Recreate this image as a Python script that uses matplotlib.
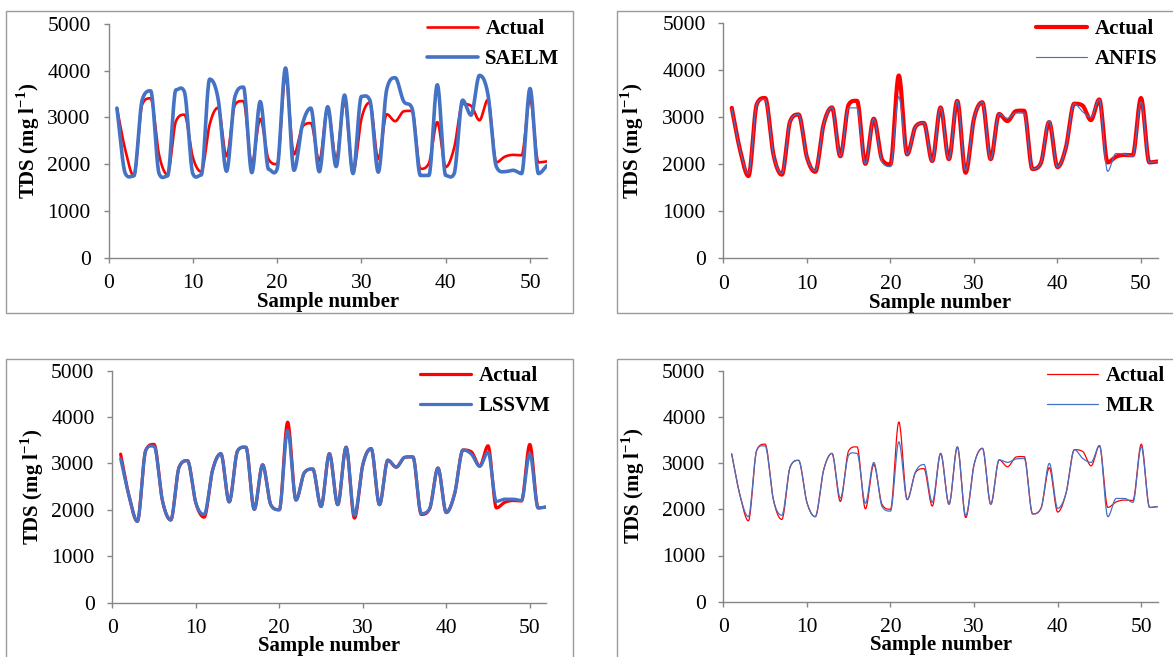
import numpy as np
import matplotlib
matplotlib.use("Agg")
import matplotlib.pyplot as plt
from matplotlib.patches import Rectangle

plt.rcParams['font.family'] = ['Liberation Serif', 'DejaVu Serif']
plt.rcParams['mathtext.fontset'] = 'custom'
plt.rcParams['mathtext.rm'] = 'Liberation Serif'
plt.rcParams['mathtext.bf'] = 'Liberation Serif:bold'

samples = list(range(1, 53))

actual = [3200, 2300, 1750, 3280, 3410, 2200, 1780, 2920, 3060, 2150,
          1840, 2850, 3210, 2170, 3270, 3350, 2010, 2970, 2100, 2000,
          3890, 2210, 2800, 2880, 2070, 3210, 2110, 3350, 1820, 2970,
          3320, 2110, 3070, 2920, 3130, 3140, 1900, 2020, 2900, 1940,
          2350, 3290, 3250, 2940, 3380, 2040, 2160, 2200, 2190, 3410,
          2040, 2060]

saelm = [3200, 1800, 1750, 3380, 3570, 1800, 1750, 3590, 3550, 1800,
         1770, 3820, 3400, 1850, 3450, 3650, 1820, 3340, 1890, 1900,
         4060, 1870, 2850, 3200, 1840, 3230, 1950, 3480, 1800, 3450,
         3370, 1830, 3600, 3850, 3350, 3200, 1760, 1760, 3700, 1760,
         1800, 3370, 3050, 3900, 3500, 1950, 1840, 1870, 1800, 3620,
         1800, 1970]

anfis = [3180, 2300, 1800, 3280, 3380, 2200, 1800, 2920, 3060, 2150,
         1860, 2850, 3210, 2170, 3200, 3200, 2010, 2970, 2050, 1950,
         3440, 2210, 2800, 2880, 2070, 3210, 2110, 3350, 1870, 2970,
         3320, 2110, 3070, 2980, 3090, 3090, 1900, 2020, 2930, 1940,
         2350, 3290, 3120, 3000, 3380, 1850, 2230, 2220, 2170, 3330,
         2040, 2060]

lssvm = [3100, 2300, 1750, 3280, 3370, 2200, 1780, 2920, 3060, 2150,
         1900, 2850, 3210, 2170, 3270, 3350, 2010, 2970, 2100, 2000,
         3710, 2210, 2800, 2880, 2070, 3210, 2110, 3350, 1880, 2970,
         3320, 2110, 3070, 2920, 3130, 3140, 1920, 2020, 2900, 1940,
         2350, 3290, 3200, 2940, 3240, 2180, 2230, 2230, 2200, 3210,
         2040, 2060]

mlr = [3200, 2300, 1840, 3280, 3370, 2200, 1870, 2920, 3060, 2150,
       1840, 2850, 3210, 2240, 3175, 3210, 2130, 3015, 2055, 1960,
       3460, 2210, 2815, 2970, 2150, 3210, 2110, 3350, 1860, 2970,
       3320, 2110, 3070, 3015, 3090, 3100, 1900, 2020, 2995, 2020,
       2350, 3290, 3100, 3015, 3380, 1840, 2235, 2235, 2150, 3355,
       2040, 2060]

models = ["SAELM", "ANFIS", "LSSVM", "MLR"]
model_values = [saelm, anfis, lssvm, mlr]

RED = "#FF0000"
BLUE = "#4472C4"
AX_GRAY = "#868686"
BOX_GRAY = "#9A9A9A"

W, H = 1173, 657
fig = plt.figure(figsize=(W / 100, H / 100), dpi=100)


def smooth(x, y, n=24):
    """Smoothed line through the points: cubic Hermite with central-difference
    tangents, softly limited so the curve barely overshoots the points."""
    x = np.asarray(x, float)
    y = np.asarray(y, float)
    d = np.diff(y) / np.diff(x)
    m = np.zeros_like(y)
    m[0], m[-1] = d[0], d[-1]
    for i in range(1, len(y) - 1):
        a, b = d[i - 1], d[i]
        if a * b > 0:
            c = 0.5 * (a + b)
            lim = max(3 * min(abs(a), abs(b)), 0.5 * abs(c))
            m[i] = np.sign(c) * min(abs(c), lim)
    t = np.linspace(0, 1, n)
    h00 = 2 * t ** 3 - 3 * t ** 2 + 1
    h10 = t ** 3 - 2 * t ** 2 + t
    h01 = -2 * t ** 3 + 3 * t ** 2
    h11 = t ** 3 - t ** 2
    xs, ys = [], []
    for i in range(len(y) - 1):
        h = x[i + 1] - x[i]
        seg_y = h00 * y[i] + h10 * h * m[i] + h01 * y[i + 1] + h11 * h * m[i + 1]
        seg_x = x[i] + t * h
        if i > 0:
            seg_x, seg_y = seg_x[1:], seg_y[1:]
        xs.append(seg_x)
        ys.append(seg_y)
    return np.concatenate(xs), np.concatenate(ys)


# axes rectangles in pixels: left, right, top, bottom
ax_px = [(108.5, 546.9, 24.0, 257.7),
         (723.4, 1157.7, 23.3, 258.3),
         (112.3, 546.5, 370.7, 602.5),
         (723.3, 1158.0, 370.7, 601.7)]
# outer chart borders in pixels: left, top, right, bottom
box_px = [(6, 11, 573, 313), (617, 11, 1185, 313),
          (6, 359, 573, 670), (617, 359, 1185, 670)]
# legend anchor (line start x, top y) in pixels
leg_px = [(427, 19), (1036, 19), (420, 366), (1047, 366)]
ylab_x = [-0.152, -0.178, -0.152, -0.176]
xlab_y = [-0.146, -0.146, -0.1445, -0.144]
# line widths (actual, model)
lws = [(1.9, 2.6), (3.0, 0.85), (2.3, 2.3), (0.9, 0.9)]

for k in range(4):
    l, r, t, b = ax_px[k]
    ax = fig.add_axes([l / W, 1 - b / H, (r - l) / W, (b - t) / H])
    bl, bt, br, bb = box_px[k]
    fig.add_artist(Rectangle((bl / W, 1 - bb / H), (br - bl) / W, (bb - bt) / H,
                             transform=fig.transFigure, fill=False,
                             ec=BOX_GRAY, lw=1.0, clip_on=False))
    xs, ys = smooth(samples, actual)
    ax.plot(xs, ys, color=RED, lw=lws[k][0], label="Actual",
            solid_capstyle='round', zorder=2)
    xs, ys = smooth(samples, model_values[k])
    ax.plot(xs, ys, color=BLUE, lw=lws[k][1], label=models[k],
            solid_capstyle='round', zorder=3)
    ax.set_xlim(0, 52)
    ax.set_ylim(0, 5000)
    ax.set_xticks([0, 10, 20, 30, 40, 50])
    ax.set_yticks([0, 1000, 2000, 3000, 4000, 5000])
    for s in ['top', 'right']:
        ax.spines[s].set_visible(False)
    for s in ['left', 'bottom']:
        ax.spines[s].set_color(AX_GRAY)
        ax.spines[s].set_linewidth(1.0)
    ax.tick_params(axis='both', direction='out', length=3.8, width=1.0,
                   color=AX_GRAY, labelsize=15.5, labelcolor='black')
    ax.tick_params(axis='x', pad=8.0)
    ax.tick_params(axis='y', pad=9)
    ax.set_ylabel(r"TDS (mg l$^{\mathbf{-1}}$)", fontsize=15, fontweight='bold')
    ax.set_xlabel("Sample number", fontsize=15, fontweight='bold')
    ax.yaxis.set_label_coords(ylab_x[k], 0.5)
    ax.xaxis.set_label_coords(0.5, xlab_y[k])
    lx, ly = leg_px[k]
    leg = ax.legend(loc='upper left', bbox_to_anchor=(lx / W, 1 - ly / H),
                    bbox_transform=fig.transFigure, frameon=False,
                    borderpad=0, borderaxespad=0, handlelength=2.45,
                    handletextpad=0.35, labelspacing=0.5,
                    prop={'family': 'Liberation Serif', 'weight': 'bold',
                          'size': 15})

fig.savefig("out.png", dpi=100)
